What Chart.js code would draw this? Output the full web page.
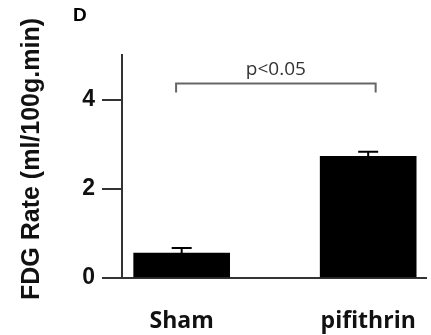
<!DOCTYPE html>
<html>
<head>
<meta charset="utf-8">
<script src="https://cdn.jsdelivr.net/npm/chart.js@4"></script>
<style>
  html, body { margin: 0; padding: 0; background: #fff; }
  #wrap { width: 431px; height: 335px; position: relative; }
</style>
</head>
<body>
<div id="wrap"><canvas id="fdgChart"></canvas></div>
<script>
    // values
    var groups = ['Sham', 'pifithrin'];
    var fdgMean = [0.56, 2.73];
    var fdgSem = [0.11, 0.10];
    var yTicks = [0, 2, 4];
    var yTitle = 'FDG Rate (ml/100g.min)';
    var sigLabel = 'p<0.05';

    var axisColor = '#333';

    // mean + SEM whiskers (upper half only, like the figure)
    var errorBars = {
        id: 'errorBars',
        afterDatasetsDraw: function(chart) {
            var ctx = chart.ctx;
            var y = chart.scales.y;
            var meta = chart.getDatasetMeta(0);
            ctx.save();
            ctx.strokeStyle = '#000';
            ctx.lineWidth = 2;
            meta.data.forEach(function(bar, i) {
                var top = y.getPixelForValue(fdgMean[i] + fdgSem[i]);
                ctx.beginPath();
                ctx.moveTo(bar.x, bar.y);
                ctx.lineTo(bar.x, top);
                ctx.moveTo(bar.x - 10, top);
                ctx.lineTo(bar.x + 10, top);
                ctx.stroke();
            });
            ctx.restore();
        }
    };

    // significance bracket, axis title, panel letter
    var extras = {
        id: 'extras',
        afterDraw: function(chart) {
            var ctx = chart.ctx;
            var x = chart.scales.x, y = chart.scales.y;
            var x0 = x.getPixelForValue(-0.03), x1 = x.getPixelForValue(1.04);
            var yb = y.getPixelForValue(4.36), yl = y.getPixelForValue(4.16);
            ctx.save();
            ctx.strokeStyle = '#666';
            ctx.lineWidth = 2;
            ctx.beginPath();
            ctx.moveTo(x0, yl);
            ctx.lineTo(x0, yb);
            ctx.lineTo(x1, yb);
            ctx.lineTo(x1, yl);
            ctx.stroke();

            ctx.fillStyle = '#333';
            ctx.font = '19px "Open Sans", sans-serif';
            ctx.textAlign = 'center';
            ctx.textBaseline = 'alphabetic';
            ctx.fillText(sigLabel, (x0 + x1) / 2, yb - 9);

            ctx.fillStyle = '#111';
            ctx.font = 'bold 25px "Liberation Sans", Arial, sans-serif';
            ctx.textBaseline = 'middle';
            ctx.translate(32, 159);
            ctx.rotate(-Math.PI / 2);
            ctx.fillText(yTitle, 0, 0);
            ctx.setTransform(1, 0, 0, 1, 0, 0);

            ctx.fillStyle = '#000';
            ctx.font = 'bold 19px "Liberation Sans", Arial, sans-serif';
            ctx.textAlign = 'left';
            ctx.textBaseline = 'alphabetic';
            ctx.fillText('D', 73, 21);
            ctx.restore();
        }
    };

    var ctx = document.getElementById('fdgChart').getContext('2d');
    var fdgChart = new Chart(ctx, {
        type: 'bar',
        data: {
            datasets: [{
                label: 'FDG Rate',
                data: groups.map(function(g, i) { return { x: i, y: fdgMean[i] }; }),
                backgroundColor: '#000',
                borderWidth: 0,
                barThickness: 96
            }]
        },
        options: {
            responsive: true,
            maintainAspectRatio: false,
            animation: false,
            layout: { padding: { top: 55, right: 5, left: 0, bottom: 0 } },
            scales: {
                x: {
                    type: 'linear',
                    offset: false,
                    min: -0.32,
                    max: 1.31,
                    afterBuildTicks: function(scale) {
                        scale.ticks = groups.map(function(g, i) { return { value: i }; });
                    },
                    afterFit: function(scale) {
                        scale.height = 57;
                        scale.paddingLeft = 0;
                        scale.paddingRight = 0;
                    },
                    grid: { display: false, drawTicks: false, offset: false },
                    border: { display: true, color: axisColor, width: 2 },
                    ticks: {
                        autoSkip: false,
                        maxRotation: 0,
                        padding: 30,
                        color: '#111',
                        font: { family: '"Open Sans", sans-serif', size: 23, weight: 'bold' },
                        callback: function(v) { return groups[v]; }
                    }
                },
                y: {
                    min: 0,
                    max: 5,
                    afterBuildTicks: function(scale) {
                        scale.ticks = yTicks.map(function(v) { return { value: v }; });
                    },
                    afterFit: function(scale) {
                        scale.width = 122;
                        scale.paddingTop = 0;
                        scale.paddingBottom = 0;
                    },
                    grid: { drawOnChartArea: false, drawTicks: true, tickLength: 20, color: axisColor, lineWidth: 2 },
                    border: { display: true, color: axisColor, width: 2 },
                    ticks: {
                        padding: 7,
                        color: '#111',
                        font: { family: '"Liberation Sans", Arial, sans-serif', size: 23, weight: 'bold' }
                    }
                }
            },
            plugins: {
                legend: { display: false },
                tooltip: { enabled: false }
            }
        },
        plugins: [errorBars, extras]
    });
</script>
</body>
</html>
